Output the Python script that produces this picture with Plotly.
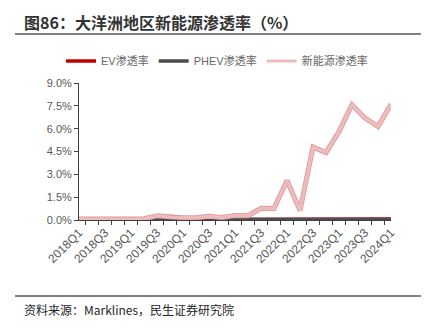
import plotly.graph_objects as go

categories = ["2018Q1","2018Q2","2018Q3","2018Q4","2019Q1","2019Q2","2019Q3","2019Q4",
              "2020Q1","2020Q2","2020Q3","2020Q4","2021Q1","2021Q2","2021Q3","2021Q4",
              "2022Q1","2022Q2","2022Q3","2022Q4","2023Q1","2023Q2","2023Q3","2023Q4","2024Q1"]
ev_rate = [0.01,0.01,0.01,0.01,0.01,0.01,0.02,0.02,0.02,0.02,0.02,0.02,0.03,0.03,0.03,0.03,
           0.04,0.03,0.04,0.04,0.05,0.06,0.06,0.06,0.06]
phev_rate = [0.02,0.02,0.02,0.02,0.02,0.03,0.09,0.06,0.04,0.04,0.07,0.05,0.05,0.04,0.04,0.04,
             0.04,0.04,0.04,0.04,0.04,0.04,0.04,0.04,0.04]
nev_rate = [0.06,0.06,0.05,0.05,0.06,0.08,0.28,0.18,0.15,0.15,0.24,0.17,0.30,0.28,0.77,0.75,
            2.59,0.62,4.79,4.43,5.81,7.57,6.69,6.14,7.60]
y_ticks = [0.0, 1.5, 3.0, 4.5, 6.0, 7.5, 9.0]

FONT = "Liberation Sans, Arial, Noto Sans CJK SC, sans-serif"
CJK = "Noto Sans CJK SC, Liberation Sans, sans-serif"
LEGEND_FONT = "Liberation Sans, Noto Sans CJK SC, sans-serif"

fig = go.Figure()
fig.add_trace(go.Scatter(x=categories, y=ev_rate, mode="lines", name="EV渗透率",
                         line=dict(color="#C00000", width=3.5)))
fig.add_trace(go.Scatter(x=categories, y=phev_rate, mode="lines", name="PHEV渗透率",
                         line=dict(color="#4D4D4D", width=3.5)))
fig.add_trace(go.Scatter(x=categories, y=nev_rate, mode="lines", showlegend=False,
                         line=dict(color="#DE9C9C", width=5), hoverinfo="skip"))
fig.add_trace(go.Scatter(x=categories, y=nev_rate, mode="lines", name="新能源渗透率",
                         line=dict(color="#EDBDBD", width=3.2)))

fig.update_layout(
    width=434, height=328,
    margin=dict(l=79, r=43, t=83, b=108, autoexpand=False),
    paper_bgcolor="white", plot_bgcolor="white",
    font=dict(family=FONT, size=11, color="#595959"),
    showlegend=True,
    legend=dict(orientation="h", xref="container", yref="container",
                x=0.5, xanchor="center", y=1 - 61/328, yanchor="middle",
                font=dict(family=LEGEND_FONT, size=11, color="#666666"),
                itemwidth=30, tracegroupgap=0, bgcolor="rgba(0,0,0,0)"),
    xaxis=dict(type="category", categoryorder="array", categoryarray=categories,
               tickmode="array", tickvals=categories,
               ticktext=[c if i % 2 == 0 else "" for i, c in enumerate(categories)],
               tickson="boundaries", ticks="outside", ticklen=4, tickcolor="#404040",
               tickangle=-45, showline=True, linecolor="#404040", linewidth=1,
               showgrid=False, zeroline=False,
               tickfont=dict(family=FONT, size=12, color="#595959")),
    yaxis=dict(range=[0, 9], tickmode="array", tickvals=y_ticks,
               ticktext=[f"{v:.1f}%" for v in y_ticks],
               ticks="outside", ticklen=4, tickcolor="#404040",
               showline=True, linecolor="#404040", linewidth=1,
               showgrid=False, zeroline=False,
               tickfont=dict(family=FONT, size=11, color="#595959")),
)

fig.add_annotation(xref="paper", yref="paper", x=(22-79)/312, y=1 + (83-22)/137,
                   xanchor="left", yanchor="middle", showarrow=False,
                   text="<b>图86：大洋洲地区新能源渗透率（%）</b>",
                   font=dict(family=CJK, size=16, color="#333333"))
fig.add_annotation(xref="paper", yref="paper", x=(22-79)/312, y=-(309-220)/137,
                   xanchor="left", yanchor="middle", showarrow=False,
                   text="资料来源：Marklines，民生证券研究院",
                   font=dict(family=CJK, size=12, color="#262626"))
fig.add_shape(type="line", xref="paper", yref="paper",
              x0=(15-79)/312, x1=(421-79)/312, y0=1 + (83-34)/137, y1=1 + (83-34)/137,
              line=dict(color="#595959", width=1.5))
fig.add_shape(type="line", xref="paper", yref="paper",
              x0=(15-79)/312, x1=(421-79)/312, y0=-(296-220)/137, y1=-(296-220)/137,
              line=dict(color="#595959", width=1.5))

fig.write_html("out.html")
